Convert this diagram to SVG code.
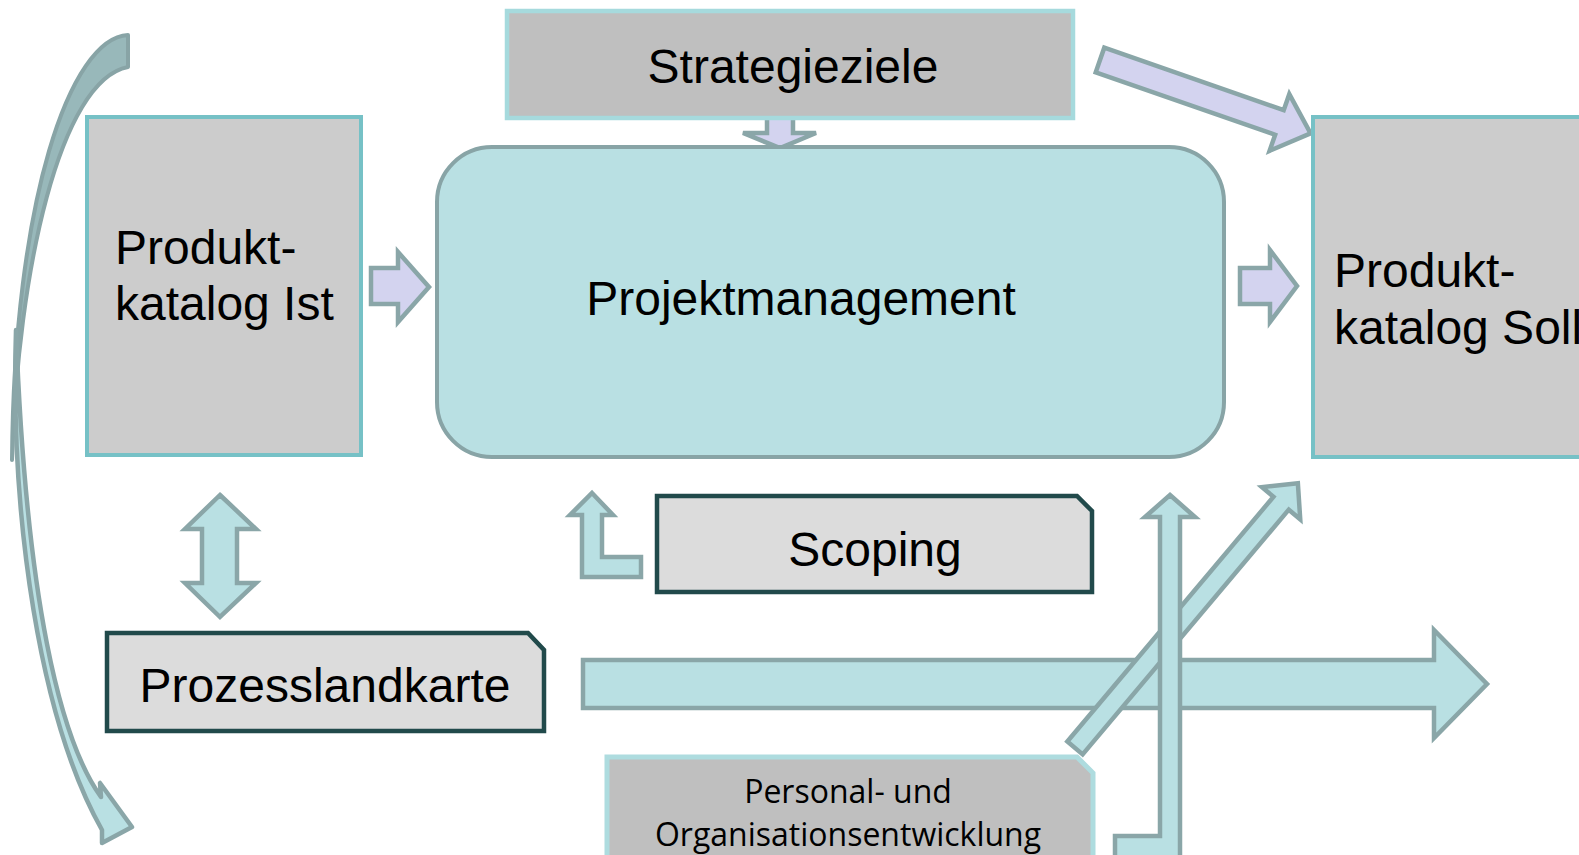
<svg xmlns="http://www.w3.org/2000/svg" width="1579" height="855" viewBox="0 0 1579 855">
<style>
.lbl{font-family:"Liberation Sans",Arial,sans-serif;font-size:48px;fill:#000}
.small{font-family:"Open Sans","Noto Sans",sans-serif;font-size:32px;fill:#000}
.boxA{fill:#cccccc;stroke:#76c1c6;stroke-width:4}
.boxB{fill:#bfbfbf;stroke:#a6dadd;stroke-width:4.5}
.boxC{fill:#dcdcdc;stroke:#214a4b;stroke-width:4.5}
.arrL{fill:#d3d3ef;stroke:#8aa6a8;stroke-width:4.5;stroke-linejoin:miter}
.arrT{fill:#b9e0e3;stroke:#8aa6a8;stroke-width:4.5;stroke-linejoin:miter}
.curve{stroke-linejoin:round}
.arrD{fill:#98b8ba;stroke:#88a4a6;stroke-width:4;stroke-linejoin:round}
</style>
<rect width="1579" height="855" fill="#fff"/>
<g id="connectors">
  <path class="arrD" d="M128,35 C70,38 14,200 12,460 C18,270 60,80 128,67 Z"/>
  <path class="arrT curve" d="M16,330 C10,520 40,720 102,830 L102,843 L132,827 L100,783 L101,797 C60,740 26,600 16,330 Z"/>
  <polygon class="arrL" points="767,112 793,112 793,133 816,133 780,148 743,133 767,133"/>
  <polygon class="arrL" points="0,-13 190,-13 190,-30 223,0 190,30 190,13 0,13" transform="translate(1100,60) rotate(19.2)"/>
  <polygon class="arrL" points="371,268 398,268 398,252 429,287 398,322 398,304 371,304"/>
  <polygon class="arrL" points="1240,268 1270,268 1270,250 1297,286 1270,322 1270,304 1240,304"/>
  <polygon class="arrT" points="220,495 256,529 237,529 237,583 256,583 220,617 185,583 202,583 202,529 185,529"/>
  <polygon class="arrT" points="592,493 613,515 602,515 602,557 641,557 641,577 582,577 582,515 570,515"/>
  <polygon class="arrT" points="583,660 1434,660 1434,630 1487,684 1434,738 1434,708 583,708"/>
  <polygon class="arrT" points="0,-10 320,-10 320,-25 346,0 320,25 320,10 0,10" transform="translate(1075,748) rotate(-49.9)"/>
  <polygon class="arrT" points="1170,495 1195,517 1180,517 1180,862 1115,862 1115,836 1160,836 1160,517 1145,517"/>
</g>
<g id="strategieziele">
  <rect class="boxB" x="507" y="11" width="566" height="107"/>
  <text class="lbl" x="793" y="83" text-anchor="middle">Strategieziele</text>
</g>
<g id="produktkatalog-ist">
  <rect class="boxA" x="87" y="117" width="274" height="338"/>
  <text class="lbl" x="115" y="264">Produkt-</text>
  <text class="lbl" x="115" y="320">katalog Ist</text>
</g>
<g id="projektmanagement">
  <rect x="437" y="147" width="787" height="310" rx="55" ry="55" fill="#b9e0e3" stroke="#88a4a6" stroke-width="4"/>
  <text class="lbl" x="801" y="315" text-anchor="middle">Projektmanagement</text>
</g>
<g id="produktkatalog-soll">
  <rect class="boxA" x="1313" y="117" width="300" height="340"/>
  <text class="lbl" x="1334" y="287">Produkt-</text>
  <text class="lbl" x="1334" y="344">katalog Soll</text>
</g>
<g id="scoping">
  <polygon class="boxC" points="657,496 1077,496 1092,511 1092,592 657,592"/>
  <text class="lbl" x="875" y="566" text-anchor="middle">Scoping</text>
</g>
<g id="prozesslandkarte">
  <polygon class="boxC" points="107,633 528,633 544,650 544,731 107,731"/>
  <text class="lbl" x="325" y="702" text-anchor="middle">Prozesslandkarte</text>
</g>
<g id="personal">
  <polygon class="boxB" points="607,757 1077,757 1093,773 1093,870 607,870" style="stroke:#aedcdf;stroke-width:5"/>
  <text class="small" x="848" y="803" text-anchor="middle">Personal- und</text>
  <text class="small" x="848" y="846" text-anchor="middle">Organisationsentwicklung</text>
</g>
</svg>
